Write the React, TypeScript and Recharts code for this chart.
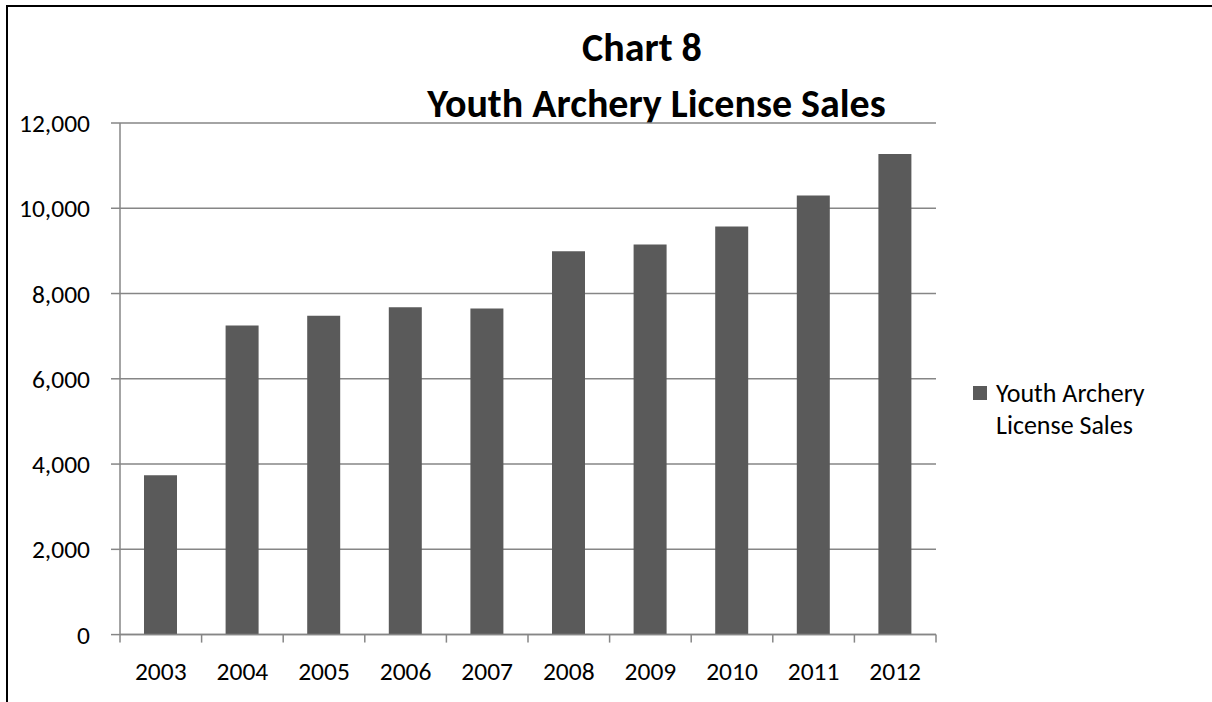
import React from 'react';
import { BarChart, Bar, XAxis, YAxis, CartesianGrid } from 'recharts';

const years = ['2003', '2004', '2005', '2006', '2007', '2008', '2009', '2010', '2011', '2012'];
const sales = [3740, 7250, 7480, 7680, 7650, 8990, 9150, 9570, 10300, 11270];
const yTicks = [0, 2000, 4000, 6000, 8000, 10000, 12000];
const seriesName = 'Youth Archery License Sales';
const titleLines = ['Chart 8', 'Youth Archery License Sales'];
const titleCenters = [642, 656.5];

const data = years.map((y, i) => ({ year: y, value: sales[i] }));

const W = 1212;
const H = 702;
const M = { top: 123, right: 276, bottom: 27.4, left: 0 };
const Y_AXIS_W = 120;
const PLOT_W = W - M.left - M.right - Y_AXIS_W;
const BAND = PLOT_W / years.length;
const FONT = "Carlito, Lato, 'Open Sans', sans-serif";
const GRID = '#868686';
const BAR = '#5a5a5a';

const fmt = (v: number) => v.toLocaleString('en-US');

const XTick = (props: any) => {
  const { x, y, payload, index } = props;
  const last = index === years.length - 1;
  return (
    <g>
      <line x1={x - BAND / 2} x2={x - BAND / 2} y1={y} y2={y + 8} stroke={GRID} strokeWidth={1.5} />
      {last && <line x1={x + BAND / 2} x2={x + BAND / 2} y1={y} y2={y + 8} stroke={GRID} strokeWidth={1.5} />}
      <text x={x} y={y + 37} textAnchor="middle" dominantBaseline="central" fill="#000" fontSize={25.5} fontFamily={FONT}>
        {payload.value}
      </text>
    </g>
  );
};

export default function App() {
  return (
    <div style={{ position: 'absolute', left: 0, top: 0, width: W, height: H, overflow: 'hidden', background: '#fff' }}>
      <div
        style={{
          position: 'absolute',
          left: 6,
          top: 5,
          width: W + 200,
          height: H + 200,
          borderLeft: '2px solid #000',
          borderTop: '2px solid #000',
          boxSizing: 'border-box',
        }}
      />
      {titleLines.map((t, i) => (
        <div
          key={t}
          style={{
            position: 'absolute',
            left: titleCenters[i] - 350,
            top: 20 + i * 56,
            width: 700,
            textAlign: 'center',
            fontFamily: FONT,
            fontWeight: 700,
            fontSize: 40,
            lineHeight: '56px',
            color: '#000',
          }}
        >
          {t}
        </div>
      ))}
      <div
        style={{
          position: 'absolute',
          left: 973,
          top: 377,
          display: 'flex',
          alignItems: 'flex-start',
          fontFamily: FONT,
          fontSize: 26,
          color: '#000',
        }}
      >
        <div style={{ width: 14, height: 14, background: BAR, marginTop: 9, marginRight: 9, flex: 'none' }} />
        <div style={{ width: 190, lineHeight: '32px' }}>{seriesName}</div>
      </div>
      <BarChart width={W} height={H} data={data} margin={M} style={{ position: 'absolute', left: 0, top: 0 }}>
        <CartesianGrid vertical={false} stroke={GRID} strokeWidth={1.5} />
        <XAxis
          dataKey="year"
          axisLine={{ stroke: GRID, strokeWidth: 1.5 }}
          tickLine={false}
          tickSize={0}
          tickMargin={0}
          height={40}
          tick={<XTick />}
          interval={0}
        />
        <YAxis
          width={Y_AXIS_W}
          domain={[0, 12000]}
          ticks={yTicks}
          interval={0}
          tickFormatter={fmt}
          axisLine={{ stroke: GRID, strokeWidth: 1.5 }}
          tickLine={{ stroke: GRID, strokeWidth: 1.5 }}
          tickSize={9}
          tickMargin={21}
          tick={{ fill: '#000', fontSize: 25.5, fontFamily: FONT }}
        />
        <Bar dataKey="value" name={seriesName} fill={BAR} barSize={33} isAnimationActive={false} />
      </BarChart>
    </div>
  );
}
